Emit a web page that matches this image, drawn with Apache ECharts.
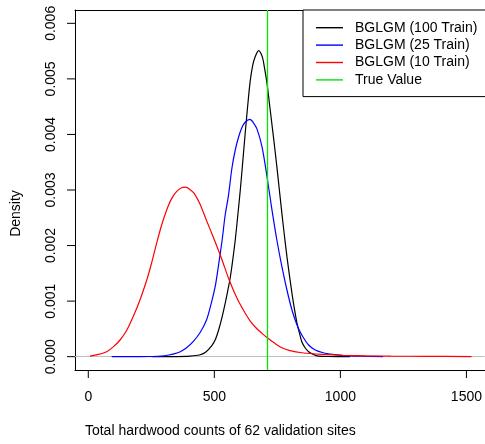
<!DOCTYPE html>
<html>
<head>
<meta charset="utf-8">
<script src="https://cdn.jsdelivr.net/npm/echarts@6/dist/echarts.min.js"></script>
<style>
  html, body { margin: 0; padding: 0; background: #ffffff; }
  #chart { width: 485px; height: 444px; }
</style>
</head>
<body>
<div id="chart"></div>
<script>
// ---- data ----
const xTicks = [0, 500, 1000, 1500];
const yTicks = [0, 0.001, 0.002, 0.003, 0.004, 0.005, 0.006];
const trueValue = 710;

const seriesNames = ['BGLGM (100 Train)', 'BGLGM (25 Train)', 'BGLGM (10 Train)', 'True Value'];

const train100 = [
  [251, 0], [350, 0.000002], [403, 0.00001], [440, 0.00003], [465, 0.00008],
  [490, 0.0002], [505, 0.00032], [517, 0.00048], [530, 0.0007], [543, 0.00096],
  [553, 0.00118], [563, 0.00142], [573, 0.00174], [583, 0.0021], [593, 0.00254],
  [603, 0.003], [613, 0.00352], [622, 0.004], [632, 0.0045], [642, 0.00495],
  [652, 0.00524], [662, 0.0054], [676, 0.00551], [690, 0.0054], [699, 0.0052],
  [709, 0.00492], [718, 0.00458], [728, 0.0042], [738, 0.00382], [748, 0.00342],
  [758, 0.003], [768, 0.00258], [778, 0.00218], [788, 0.0018], [798, 0.00146],
  [808, 0.00114], [818, 0.00085], [828, 0.0006], [838, 0.00042], [847, 0.00027],
  [860, 0.00016], [874, 0.00009], [893, 0.00004], [913, 0.00001], [950, 0.000003],
  [1038, 0]
];

const train25 = [
  [93, 0], [200, 0.000001], [250, 0.000003], [290, 0.00001], [320, 0.00003],
  [340, 0.00005], [365, 0.00009], [390, 0.00016], [416, 0.00027], [443, 0.00043],
  [469, 0.00066], [490, 0.001], [505, 0.0013], [520, 0.00175], [531, 0.0021],
  [543, 0.00255], [556, 0.0029], [570, 0.0034], [583, 0.00372], [596, 0.00395],
  [609, 0.00412], [622, 0.00422], [641, 0.00427], [655, 0.00421], [669, 0.0041],
  [689, 0.00378], [709, 0.00324], [728, 0.00266], [748, 0.0021], [768, 0.00162],
  [788, 0.0012], [808, 0.00084], [828, 0.00057], [847, 0.00039], [874, 0.00021],
  [900, 0.00012], [932, 0.00007], [970, 0.00004], [1011, 0.00002], [1080, 0.000008],
  [1170, 0.000002]
];

const train10 = [
  [7, 0.00001], [40, 0.00004], [73, 0.00009], [100, 0.00018], [126, 0.0003],
  [152, 0.00047], [178, 0.00072], [205, 0.00102], [232, 0.00138], [252, 0.0017],
  [271, 0.00204], [291, 0.00237], [311, 0.00264], [330, 0.00284], [350, 0.00297],
  [370, 0.00304], [387, 0.00305], [403, 0.00301], [420, 0.00294], [443, 0.00275],
  [469, 0.00245], [496, 0.00215], [526, 0.0018], [559, 0.00138], [590, 0.00105],
  [615, 0.00084], [641, 0.00065], [665, 0.00052], [689, 0.00042], [710, 0.00034],
  [740, 0.00024], [768, 0.00016], [800, 0.00011], [847, 0.00007], [926, 0.00004],
  [1010, 0.000025], [1100, 0.000015], [1200, 0.00001], [1342, 0.000005], [1520, 0.000002]
];

const FONT = '"Liberation Sans", Arial, Helvetica, sans-serif';
const X_MIN = -52.7, X_MAX = 1572.6, Y_MIN = -0.00024, Y_MAX = 0.00624;
const TICK_LEN = 8;

const chart = echarts.init(document.getElementById('chart'), null, { renderer: 'canvas' });

function curve(name, data, color) {
  return {
    name: name,
    type: 'line',
    xAxisIndex: 0,
    yAxisIndex: 0,
    data: data,
    showSymbol: false,
    symbol: 'none',
    smooth: 0.3,
    lineStyle: { color: color, width: 1.2 },
    itemStyle: { color: color },
    z: 3,
    animation: false
  };
}

// tick marks drawn through the axes' own scales (custom series, not clipped)
function tickSeries(name, values, isX) {
  return {
    name: name,
    type: 'custom',
    xAxisIndex: 0,
    yAxisIndex: 0,
    silent: true,
    clip: false,
    animation: false,
    z: 5,
    data: values.map(function (v) { return isX ? [v, Y_MIN] : [X_MIN, v]; }),
    renderItem: function (params, api) {
      const p = api.coord([api.value(0), api.value(1)]);
      const shape = isX
        ? { x1: p[0], y1: p[1], x2: p[0], y2: p[1] + TICK_LEN }
        : { x1: p[0], y1: p[1], x2: p[0] - TICK_LEN, y2: p[1] };
      return { type: 'line', shape: shape, style: { stroke: '#000', lineWidth: 1 } };
    }
  };
}

const option = {
  animation: false,
  backgroundColor: '#ffffff',
  textStyle: { fontFamily: FONT },
  grid: { left: 75, top: 10, width: 410, height: 360 },
  legend: {
    data: seriesNames,
    orient: 'vertical',
    left: 303, top: 10,
    padding: [10.7, 24, 9.7, 13],
    itemGap: 3.4,
    itemWidth: 27,
    itemHeight: 1.4,
    icon: 'rect',
    backgroundColor: '#ffffff',
    borderColor: '#000',
    borderWidth: 1,
    borderRadius: 0,
    textStyle: { fontFamily: FONT, fontSize: 14, color: '#000', lineHeight: 14, padding: [0, 0, 0, 7] }
  },
  xAxis: [{
    type: 'value',
    position: 'bottom',
    min: X_MIN, max: X_MAX,
    name: 'Total hardwood counts of 62 validation sites',
    nameLocation: 'middle',
    nameGap: 54.5,
    nameTextStyle: { fontFamily: FONT, fontSize: 14, color: '#000', padding: [0, 119, 0, 0] },
    axisLine: { show: true, onZero: false, lineStyle: { color: '#000', width: 1 } },
    axisTick: { show: false },
    axisLabel: {
      show: true, customValues: xTicks, margin: 20, fontFamily: FONT, fontSize: 14, color: '#000',
      formatter: function (v) { return String(v); }
    },
    splitLine: { show: false }
  }, {
    type: 'value',
    position: 'top',
    min: X_MIN, max: X_MAX,
    axisLine: { show: true, onZero: false, lineStyle: { color: '#000', width: 1 } },
    axisTick: { show: false },
    axisLabel: { show: false },
    splitLine: { show: false }
  }],
  yAxis: [{
    type: 'value',
    position: 'left',
    min: Y_MIN, max: Y_MAX,
    name: 'Density',
    nameLocation: 'middle',
    nameGap: 52,
    nameTextStyle: { fontFamily: FONT, fontSize: 14, color: '#000', padding: [0, 47, 0, 0] },
    axisLine: { show: true, onZero: false, lineStyle: { color: '#000', width: 1 } },
    axisTick: { show: false },
    axisLabel: {
      show: true, customValues: yTicks, rotate: 90, margin: 17,
      fontFamily: FONT, fontSize: 14, color: '#000',
      formatter: function (v) { return v.toFixed(3); }
    },
    splitLine: { show: false }
  }],
  series: [
    Object.assign(curve(seriesNames[0], train100, '#000000'), {
      markLine: {
        silent: true, symbol: ['none', 'none'], label: { show: false },
        lineStyle: { color: '#bebebe', width: 1.2, type: 'solid' },
        data: [{ yAxis: 0 }],
        z: 1, animation: false
      }
    }),
    curve(seriesNames[1], train25, '#0000ff'),
    curve(seriesNames[2], train10, '#ff0000'),
    {
      name: seriesNames[3],
      type: 'line',
      xAxisIndex: 0,
      yAxisIndex: 0,
      data: [],
      symbol: 'none',
      lineStyle: { color: '#00e600', width: 1.3 },
      itemStyle: { color: '#00e600' },
      markLine: {
        silent: true, symbol: ['none', 'none'], label: { show: false },
        lineStyle: { color: '#00e600', width: 1.3, type: 'solid' },
        data: [{ xAxis: trueValue }],
        animation: false
      },
      animation: false
    },
    tickSeries('xTickMarks', xTicks, true),
    tickSeries('yTickMarks', yTicks, false)
  ]
};

chart.setOption(option);
</script>
</body>
</html>
